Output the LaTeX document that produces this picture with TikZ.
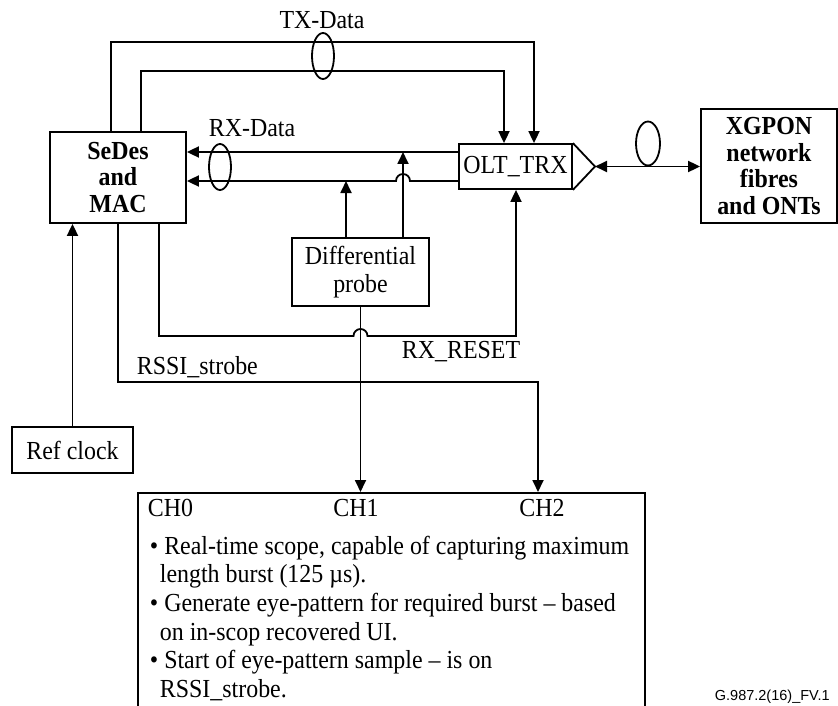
\documentclass[tikz,border=0pt]{standalone}
\usepackage{fontspec}
\setmainfont{Liberation Serif}[FakeStretch=0.92]
\setsansfont{Liberation Sans}
\usetikzlibrary{arrows.meta}

\begin{document}
\begin{tikzpicture}[x=1pt, y=-1pt, line width=1.8pt,
                    >={Triangle[length=12pt,width=11pt]},
                    every node/.style={inner sep=0pt},
                    font=\fontsize{26}{26.5}\selectfont,
                    box/.style={draw, rectangle, align=center},
                    boldbox/.style={box, font=\fontsize{26}{26.5}\selectfont\bfseries}
                   ]

        \useasboundingbox (0,0) rectangle (838,706);

        \node[boldbox, minimum width=136pt, minimum height=91pt] (sedes) at (118,177.5) {SeDes\\and\\MAC};
        \node[box, minimum width=113pt, minimum height=45pt] (olt) at (515.5,166.5) {OLT\_TRX};
        \node[boldbox, minimum width=136pt, minimum height=114pt] (xgpon) at (769,166) {XGPON\\network\\fibres\\and ONTs};
        \node[box, minimum width=137pt, minimum height=68pt, font=\fontsize{26}{27.5}\selectfont] (probe) at (360.5,272) {Differential\\probe};
        \node[box, minimum width=121pt, minimum height=46pt] (refclk) at (72.5,450) {Ref clock};
        \node[box, minimum width=507pt, minimum height=240pt, anchor=north west] (scope) at (137,492) {};

        \coordinate (tip) at (595,166.5);
        \draw[line join=miter] (olt.north east) -- (tip) -- (olt.south east);

        \coordinate (txa) at (111,42);
        \coordinate (txb) at (534,42);
        \coordinate (txc) at (141,71);
        \coordinate (txd) at (504,71);
        \draw[->] (sedes.north -| txa) -- (txa) -- (txb) -- (olt.north -| txb);
        \draw[->] (sedes.north -| txc) -- (txc) -- (txd) -- (olt.north -| txd);

        \coordinate (rxa) at (0,152);
        \coordinate (rxb) at (0,181);
        \coordinate (pa) at (346,181);
        \coordinate (pb) at (403,152);
        \coordinate (hopa) at (pb |- rxb);
        \draw[->] (olt.west |- rxa) -- (sedes.east |- rxa);
        \draw[->] (olt.west |- rxb) -- ([xshift=7pt]hopa) arc[start angle=0, end angle=180, radius=7pt]
            -- (sedes.east |- rxb);
        \draw[->] (probe.north -| pa) -- (pa);
        \draw[->] (probe.north -| pb) -- (pb);

        \coordinate (rsta) at (159,336);
        \coordinate (rstb) at (516,336);
        \coordinate (hopb) at (probe.south |- rsta);
        \draw[->] (sedes.south -| rsta) -- (rsta) -- ([xshift=-7pt]hopb)
            arc[start angle=180, end angle=0, radius=7pt] -- (rstb) -- (olt.south -| rstb);

        \coordinate (rsa) at (118,382);
        \coordinate (rsb) at (538,382);
        \draw[->] (sedes.south -| rsa) -- (rsa) -- (rsb) -- (scope.north -| rsb);
        \draw[->] (probe.south) -- (probe.south |- scope.north);
        \draw[->] (refclk.north) -- (refclk.north |- sedes.south);
        \draw[<->] (tip) -- (xgpon.west |- tip);

        \draw (323,56) ellipse[x radius=11pt, y radius=23pt];
        \draw (220,167) ellipse[x radius=11pt, y radius=23pt];
        \draw (648,143.5) ellipse[x radius=12pt, y radius=22pt];

        \node (txlbl) at (322,20) {TX-Data};
        \node (rxlbl) at (252,128) {RX-Data};
        \node[anchor=west] (rssilbl) at (136,367) {RSSI\_strobe};
        \node (rstlbl) at (461,352) {RX\_RESET};

        \node[anchor=base west] (ch0) at (147,516) {CH0};
        \node[anchor=base] (ch1) at (356,516) {CH1};
        \node[anchor=base] (ch2) at (542,516) {CH2};
        \node[anchor=north west, align=left, font=\fontsize{26}{28.6}\selectfont] (notes) at (149,535)
            {\textbullet\ Real-time scope, capable of capturing maximum\\
             \hspace*{10pt}length burst (125 µs).\\
             \textbullet\ Generate eye-pattern for required burst -- based\\
             \hspace*{10pt}on in-scop recovered UI.\\
             \textbullet\ Start of eye-pattern sample -- is on\\
             \hspace*{10pt}RSSI\_strobe.};

        \node[anchor=west, font=\sffamily\fontsize{14.5}{16}\selectfont] (figid) at (714,697) {G.987.2(16)\_FV.1};
\end{tikzpicture}
\end{document}
